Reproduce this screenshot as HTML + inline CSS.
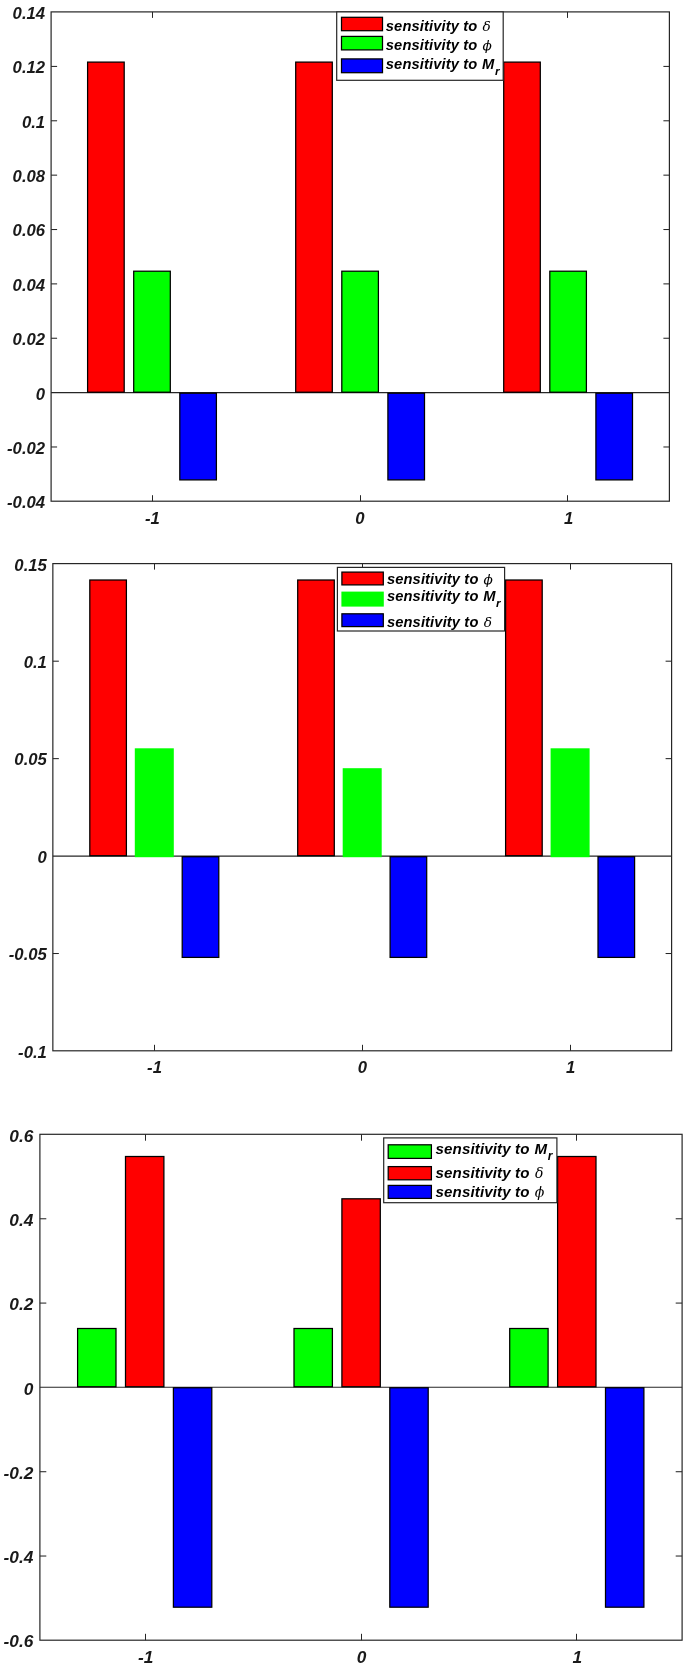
<!DOCTYPE html>
<html lang="en">
<head>
<meta charset="utf-8">
<title>Sensitivity bar charts</title>
<style>
html,body{margin:0;padding:0;background:#fff;}
body{width:685px;height:1668px;overflow:hidden;}
svg{display:block;filter:blur(0.45px);}
.l{stroke:#262626;stroke-width:1.2;}
.t{font-family:"Liberation Sans", sans-serif;font-weight:bold;font-style:italic;fill:#1a1a1a;}
.k{fill:#000;}
.k2{stroke-width:1.05;}
.g{font-family:"DejaVu Serif", "Liberation Serif", serif;font-weight:normal;font-style:italic;}
</style>
</head>
<body>
<svg width="685" height="1668" viewBox="0 0 685 1668">
<rect x="0" y="0" width="685" height="1668" fill="#ffffff"/>
<g>
<line x1="51.1" y1="392.72" x2="669.4" y2="392.72" class="l"/>
<rect x="87.6" y="62.1" width="36.6" height="330.12" fill="#ff0000" stroke="#000" stroke-width="1.25"/>
<rect x="133.7" y="271.2" width="36.6" height="121.02" fill="#00ff00" stroke="#000" stroke-width="1.25"/>
<rect x="179.8" y="393.22" width="36.6" height="86.68" fill="#0000ff" stroke="#000" stroke-width="1.25"/>
<rect x="295.7" y="62.1" width="36.6" height="330.12" fill="#ff0000" stroke="#000" stroke-width="1.25"/>
<rect x="341.8" y="271.2" width="36.6" height="121.02" fill="#00ff00" stroke="#000" stroke-width="1.25"/>
<rect x="387.9" y="393.22" width="36.6" height="86.68" fill="#0000ff" stroke="#000" stroke-width="1.25"/>
<rect x="503.7" y="62.1" width="36.6" height="330.12" fill="#ff0000" stroke="#000" stroke-width="1.25"/>
<rect x="549.8" y="271.2" width="36.6" height="121.02" fill="#00ff00" stroke="#000" stroke-width="1.25"/>
<rect x="595.9" y="393.22" width="36.6" height="86.68" fill="#0000ff" stroke="#000" stroke-width="1.25"/>
<rect x="51.1" y="11.9" width="618.3" height="489.3" fill="none" class="l"/>
<text x="45.1" y="18.91" text-anchor="end" font-size="16.7" class="t">0.14</text>
<line x1="51.1" y1="66.42" x2="57.1" y2="66.42" class="l k2"/>
<line x1="669.4" y1="66.42" x2="663.4" y2="66.42" class="l k2"/>
<text x="45.1" y="73.28" text-anchor="end" font-size="16.7" class="t">0.12</text>
<line x1="51.1" y1="120.78" x2="57.1" y2="120.78" class="l k2"/>
<line x1="669.4" y1="120.78" x2="663.4" y2="120.78" class="l k2"/>
<text x="45.1" y="127.65" text-anchor="end" font-size="16.7" class="t">0.1</text>
<line x1="51.1" y1="175.15" x2="57.1" y2="175.15" class="l k2"/>
<line x1="669.4" y1="175.15" x2="663.4" y2="175.15" class="l k2"/>
<text x="45.1" y="182.01" text-anchor="end" font-size="16.7" class="t">0.08</text>
<line x1="51.1" y1="229.52" x2="57.1" y2="229.52" class="l k2"/>
<line x1="669.4" y1="229.52" x2="663.4" y2="229.52" class="l k2"/>
<text x="45.1" y="236.38" text-anchor="end" font-size="16.7" class="t">0.06</text>
<line x1="51.1" y1="283.88" x2="57.1" y2="283.88" class="l k2"/>
<line x1="669.4" y1="283.88" x2="663.4" y2="283.88" class="l k2"/>
<text x="45.1" y="290.75" text-anchor="end" font-size="16.7" class="t">0.04</text>
<line x1="51.1" y1="338.25" x2="57.1" y2="338.25" class="l k2"/>
<line x1="669.4" y1="338.25" x2="663.4" y2="338.25" class="l k2"/>
<text x="45.1" y="345.11" text-anchor="end" font-size="16.7" class="t">0.02</text>
<text x="45.1" y="399.73" text-anchor="end" font-size="16.7" class="t">0</text>
<line x1="51.1" y1="446.98" x2="57.1" y2="446.98" class="l k2"/>
<line x1="669.4" y1="446.98" x2="663.4" y2="446.98" class="l k2"/>
<text x="45.1" y="453.85" text-anchor="end" font-size="16.7" class="t">-0.02</text>
<text x="45.1" y="508.21" text-anchor="end" font-size="16.7" class="t">-0.04</text>
<line x1="152.5" y1="501.2" x2="152.5" y2="495.2" class="l k2"/>
<line x1="152.5" y1="11.9" x2="152.5" y2="17.9" class="l k2"/>
<text x="152.4" y="523.7" text-anchor="middle" font-size="16.7" class="t">-1</text>
<line x1="360.5" y1="501.2" x2="360.5" y2="495.2" class="l k2"/>
<line x1="360.5" y1="11.9" x2="360.5" y2="17.9" class="l k2"/>
<text x="360" y="523.7" text-anchor="middle" font-size="16.7" class="t">0</text>
<line x1="567.5" y1="501.2" x2="567.5" y2="495.2" class="l k2"/>
<line x1="567.5" y1="11.9" x2="567.5" y2="17.9" class="l k2"/>
<text x="568.6" y="523.7" text-anchor="middle" font-size="16.7" class="t">1</text>
<rect x="336.7" y="11.9" width="166.5" height="68.4" fill="#fff" class="l"/>
<rect x="341.5" y="17.3" width="41" height="13.4" fill="#ff0000" stroke="#000" stroke-width="1.25"/>
<text x="385.8" y="30.5" font-size="14.7" letter-spacing="0.13" class="t k">sensitivity to <tspan class="g" font-size="13.7" x="482.6">δ</tspan></text>
<rect x="341.5" y="36.4" width="41" height="13.5" fill="#00ff00" stroke="#000" stroke-width="1.25"/>
<text x="385.8" y="49.7" font-size="14.7" letter-spacing="0.13" class="t k">sensitivity to <tspan class="g" font-size="13.7" x="482.5">ϕ</tspan></text>
<rect x="341.5" y="58.9" width="41" height="13.8" fill="#0000ff" stroke="#000" stroke-width="1.25"/>
<text x="385.8" y="68.9" font-size="14.7" letter-spacing="0.13" class="t k">sensitivity to <tspan x="482.1">M</tspan><tspan font-size="11.7" x="495" dy="5.8">r</tspan></text>
</g>
<g>
<line x1="52.85" y1="856.22" x2="671.6" y2="856.22" class="l"/>
<rect x="89.8" y="580" width="36.6" height="275.72" fill="#ff0000" stroke="#000" stroke-width="1.25"/>
<rect x="134.8" y="748.3" width="39" height="108.92" fill="#00ff00"/>
<rect x="182.2" y="856.72" width="36.6" height="100.68" fill="#0000ff" stroke="#000" stroke-width="1.25"/>
<rect x="297.7" y="580" width="36.6" height="275.72" fill="#ff0000" stroke="#000" stroke-width="1.25"/>
<rect x="342.7" y="768.2" width="39" height="89.02" fill="#00ff00"/>
<rect x="390.1" y="856.72" width="36.6" height="100.68" fill="#0000ff" stroke="#000" stroke-width="1.25"/>
<rect x="505.6" y="580" width="36.6" height="275.72" fill="#ff0000" stroke="#000" stroke-width="1.25"/>
<rect x="550.6" y="748.3" width="39" height="108.92" fill="#00ff00"/>
<rect x="598" y="856.72" width="36.6" height="100.68" fill="#0000ff" stroke="#000" stroke-width="1.25"/>
<rect x="52.85" y="563.6" width="618.75" height="487.2" fill="none" class="l"/>
<text x="46.85" y="570.61" text-anchor="end" font-size="16.7" class="t">0.15</text>
<line x1="52.85" y1="661.19" x2="58.85" y2="661.19" class="l k2"/>
<line x1="671.6" y1="661.19" x2="665.6" y2="661.19" class="l k2"/>
<text x="46.85" y="668.05" text-anchor="end" font-size="16.7" class="t">0.1</text>
<line x1="52.85" y1="758.63" x2="58.85" y2="758.63" class="l k2"/>
<line x1="671.6" y1="758.63" x2="665.6" y2="758.63" class="l k2"/>
<text x="46.85" y="765.49" text-anchor="end" font-size="16.7" class="t">0.05</text>
<text x="46.85" y="863.23" text-anchor="end" font-size="16.7" class="t">0</text>
<line x1="52.85" y1="953.51" x2="58.85" y2="953.51" class="l k2"/>
<line x1="671.6" y1="953.51" x2="665.6" y2="953.51" class="l k2"/>
<text x="46.85" y="960.37" text-anchor="end" font-size="16.7" class="t">-0.05</text>
<text x="46.85" y="1057.81" text-anchor="end" font-size="16.7" class="t">-0.1</text>
<line x1="154.5" y1="1050.8" x2="154.5" y2="1044.8" class="l k2"/>
<line x1="154.5" y1="563.6" x2="154.5" y2="569.6" class="l k2"/>
<text x="154.5" y="1073.3" text-anchor="middle" font-size="16.7" class="t">-1</text>
<line x1="362.5" y1="1050.8" x2="362.5" y2="1044.8" class="l k2"/>
<line x1="362.5" y1="563.6" x2="362.5" y2="569.6" class="l k2"/>
<text x="362.4" y="1073.3" text-anchor="middle" font-size="16.7" class="t">0</text>
<line x1="570.5" y1="1050.8" x2="570.5" y2="1044.8" class="l k2"/>
<line x1="570.5" y1="563.6" x2="570.5" y2="569.6" class="l k2"/>
<text x="570.7" y="1073.3" text-anchor="middle" font-size="16.7" class="t">1</text>
<rect x="337.4" y="567.4" width="167.2" height="63.6" fill="#fff" class="l"/>
<rect x="341.9" y="572.1" width="41.4" height="12.8" fill="#ff0000" stroke="#000" stroke-width="1.25"/>
<text x="386.9" y="584" font-size="14.7" letter-spacing="0.13" class="t k">sensitivity to <tspan class="g" font-size="13.7" x="483.6">ϕ</tspan></text>
<rect x="341.4" y="591.6" width="42.4" height="15" fill="#00ff00"/>
<text x="386.9" y="601.2" font-size="14.7" letter-spacing="0.13" class="t k">sensitivity to <tspan x="483.2">M</tspan><tspan font-size="11.7" x="496.1" dy="5.8">r</tspan></text>
<rect x="341.9" y="613.8" width="41.4" height="12.8" fill="#0000ff" stroke="#000" stroke-width="1.25"/>
<text x="386.9" y="626.9" font-size="14.7" letter-spacing="0.13" class="t k">sensitivity to <tspan class="g" font-size="13.7" x="483.7">δ</tspan></text>
</g>
<g>
<line x1="39.9" y1="1387.25" x2="682.1" y2="1387.25" class="l"/>
<rect x="77.6" y="1328.5" width="38.4" height="58.25" fill="#00ff00" stroke="#000" stroke-width="1.25"/>
<rect x="125.5" y="1156.5" width="38.4" height="230.25" fill="#ff0000" stroke="#000" stroke-width="1.25"/>
<rect x="173.4" y="1387.75" width="38.4" height="219.45" fill="#0000ff" stroke="#000" stroke-width="1.25"/>
<rect x="294" y="1328.5" width="38.4" height="58.25" fill="#00ff00" stroke="#000" stroke-width="1.25"/>
<rect x="341.9" y="1198.8" width="38.4" height="187.95" fill="#ff0000" stroke="#000" stroke-width="1.25"/>
<rect x="389.8" y="1387.75" width="38.4" height="219.45" fill="#0000ff" stroke="#000" stroke-width="1.25"/>
<rect x="509.7" y="1328.5" width="38.4" height="58.25" fill="#00ff00" stroke="#000" stroke-width="1.25"/>
<rect x="557.6" y="1156.5" width="38.4" height="230.25" fill="#ff0000" stroke="#000" stroke-width="1.25"/>
<rect x="605.5" y="1387.75" width="38.4" height="219.45" fill="#0000ff" stroke="#000" stroke-width="1.25"/>
<rect x="39.9" y="1134.3" width="642.2" height="505.9" fill="none" class="l"/>
<text x="33.4" y="1141.57" text-anchor="end" font-size="17.3" class="t">0.6</text>
<line x1="39.9" y1="1218.77" x2="46.3" y2="1218.77" class="l k2"/>
<line x1="682.1" y1="1218.77" x2="675.7" y2="1218.77" class="l k2"/>
<text x="33.4" y="1225.88" text-anchor="end" font-size="17.3" class="t">0.4</text>
<line x1="39.9" y1="1303.08" x2="46.3" y2="1303.08" class="l k2"/>
<line x1="682.1" y1="1303.08" x2="675.7" y2="1303.08" class="l k2"/>
<text x="33.4" y="1310.2" text-anchor="end" font-size="17.3" class="t">0.2</text>
<text x="33.4" y="1394.52" text-anchor="end" font-size="17.3" class="t">0</text>
<line x1="39.9" y1="1471.72" x2="46.3" y2="1471.72" class="l k2"/>
<line x1="682.1" y1="1471.72" x2="675.7" y2="1471.72" class="l k2"/>
<text x="33.4" y="1478.83" text-anchor="end" font-size="17.3" class="t">-0.2</text>
<line x1="39.9" y1="1556.03" x2="46.3" y2="1556.03" class="l k2"/>
<line x1="682.1" y1="1556.03" x2="675.7" y2="1556.03" class="l k2"/>
<text x="33.4" y="1563.15" text-anchor="end" font-size="17.3" class="t">-0.4</text>
<text x="33.4" y="1647.47" text-anchor="end" font-size="17.3" class="t">-0.6</text>
<line x1="145.5" y1="1640.2" x2="145.5" y2="1633.8" class="l k2"/>
<line x1="145.5" y1="1134.3" x2="145.5" y2="1140.7" class="l k2"/>
<text x="145.7" y="1663.1" text-anchor="middle" font-size="17.3" class="t">-1</text>
<line x1="361.5" y1="1640.2" x2="361.5" y2="1633.8" class="l k2"/>
<line x1="361.5" y1="1134.3" x2="361.5" y2="1140.7" class="l k2"/>
<text x="361.5" y="1663.1" text-anchor="middle" font-size="17.3" class="t">0</text>
<line x1="576.5" y1="1640.2" x2="576.5" y2="1633.8" class="l k2"/>
<line x1="576.5" y1="1134.3" x2="576.5" y2="1140.7" class="l k2"/>
<text x="577.2" y="1663.1" text-anchor="middle" font-size="17.3" class="t">1</text>
<rect x="383.7" y="1137.9" width="173.2" height="64.8" fill="#fff" class="l"/>
<rect x="388.2" y="1144.8" width="43.2" height="13.6" fill="#00ff00" stroke="#000" stroke-width="1.25"/>
<text x="435.5" y="1153.6" font-size="15.1" letter-spacing="0.13" class="t k">sensitivity to <tspan x="534.42">M</tspan><tspan font-size="12.02" x="547.67" dy="5.96">r</tspan></text>
<rect x="388.2" y="1166.6" width="43.2" height="13.2" fill="#ff0000" stroke="#000" stroke-width="1.25"/>
<text x="435.5" y="1178.3" font-size="15.1" letter-spacing="0.13" class="t k">sensitivity to <tspan class="g" font-size="14.07" x="534.93">δ</tspan></text>
<rect x="388.2" y="1185.4" width="43.2" height="13" fill="#0000ff" stroke="#000" stroke-width="1.25"/>
<text x="435.5" y="1196.9" font-size="15.1" letter-spacing="0.13" class="t k">sensitivity to <tspan class="g" font-size="14.07" x="534.83">ϕ</tspan></text>
</g>
</svg>
</body>
</html>
